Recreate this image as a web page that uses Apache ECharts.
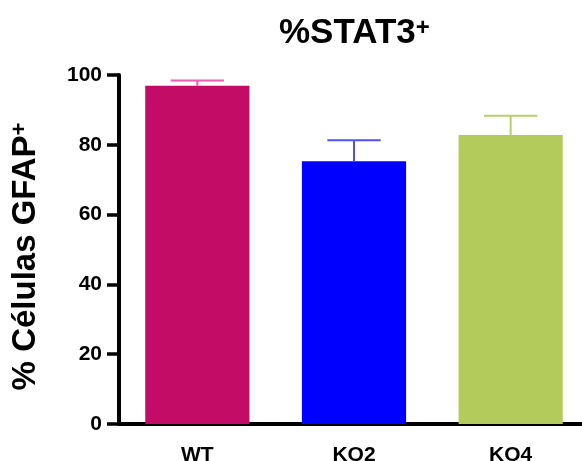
<!DOCTYPE html>
<html>
<head>
<meta charset="utf-8">
<script src="https://cdn.jsdelivr.net/npm/echarts@6/dist/echarts.min.js"></script>
<style>
  html, body { margin: 0; padding: 0; background: #fff; }
  #myCharts { width: 582px; height: 461px; }
</style>
</head>
<body>
<div id="myCharts"></div>
<script>
// datos
const categories = ["WT", "KO2", "KO4"];
const means = [96.9, 75.3, 82.8];
const errors = [1.5, 6.0, 5.5];
const barColors = ["#C20C65", "#0000FF", "#B3CB5A"];
const errColors = ["#F45DAF", "#4F4FFF", "#B8D166"];
const yTicks = [0, 20, 40, 60, 80, 100];

const font = "Liberation Sans, Arial, sans-serif";
const myCharts = echarts.init(document.getElementById("myCharts"));

let options = {
  animation: false,
  title: {
    text: "%STAT3{sup|+}",
    left: 274,
    top: 11,
    textStyle: {
      fontFamily: font,
      fontSize: 35,
      fontWeight: "bold",
      color: "#000",
      rich: {
        sup: { fontFamily: font, fontSize: 24, fontWeight: "bold", color: "#000", verticalAlign: "top" }
      }
    }
  },
  grid: {
    left: 119,
    right: -7,
    top: 75,
    bottom: 37,
    containLabel: false,
    outerBoundsMode: "none"
  },
  xAxis: {
    type: "category",
    data: categories,
    axisLine: { lineStyle: { color: "#000", width: 4 } },
    axisTick: { alignWithLabel: true, length: 14, lineStyle: { color: "#000", width: 3.5 } },
    axisLabel: { color: "#000", fontFamily: font, fontSize: 21, fontWeight: "bold", margin: 21 }
  },
  yAxis: {
    type: "value",
    min: yTicks[0],
    max: yTicks[yTicks.length - 1],
    interval: 20,
    name: "% Células GFAP{sup|+}",
    nameLocation: "middle",
    nameGap: 77,
    nameTextStyle: {
      fontFamily: font,
      fontSize: 33,
      fontWeight: "bold",
      color: "#000",
      padding: [0, 14, 0, 0],
      rich: {
        sup: { fontFamily: font, fontSize: 22, fontWeight: "bold", color: "#000", verticalAlign: "top" }
      }
    },
    axisLine: { show: true, lineStyle: { color: "#000", width: 4 } },
    axisTick: { show: true, length: 12, lineStyle: { color: "#000", width: 3.5 } },
    axisLabel: { color: "#000", fontFamily: font, fontSize: 21, fontWeight: "bold", margin: 17 },
    splitLine: { show: false }
  },
  series: [
    {
      type: "bar",
      barWidth: "66.5%",
      data: means.map((v, i) => ({ value: v, itemStyle: { color: barColors[i] } })),
      z: 2
    },
    {
      // barras de error (solo hacia arriba)
      type: "custom",
      z: 3,
      data: means.map((v, i) => [i, v, v + errors[i]]),
      renderItem: function (params, api) {
        const i = api.value(0);
        const low = api.coord([i, api.value(1)]);
        const high = api.coord([i, api.value(2)]);
        const capHalf = api.size([1, 0])[0] * 0.17;
        const style = { stroke: errColors[i], lineWidth: 2, fill: null };
        return {
          type: "group",
          children: [
            { type: "line", shape: { x1: low[0], y1: low[1], x2: high[0], y2: high[1] }, style: style },
            { type: "line", shape: { x1: high[0] - capHalf, y1: high[1], x2: high[0] + capHalf, y2: high[1] }, style: style }
          ]
        };
      }
    }
  ]
};
myCharts.setOption(options);
</script>
</body>
</html>
